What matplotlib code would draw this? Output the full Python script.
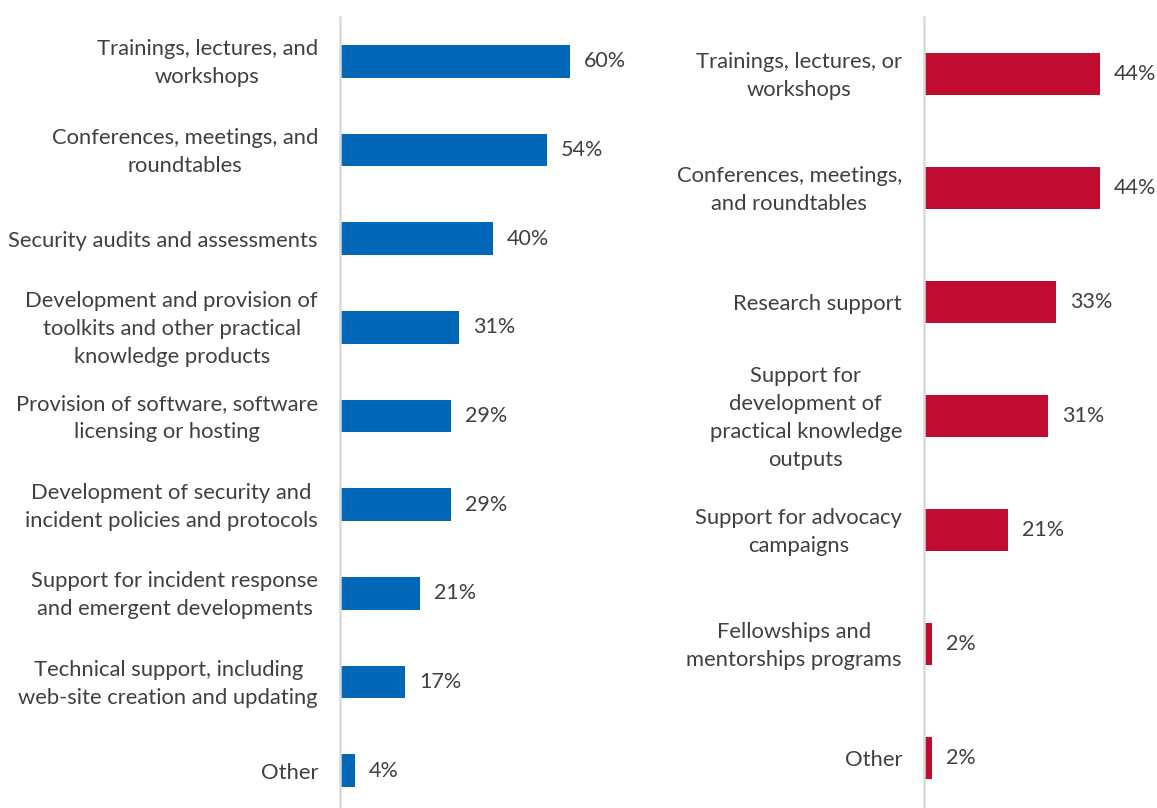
import matplotlib
matplotlib.use("Agg")
import matplotlib.pyplot as plt
from matplotlib.transforms import ScaledTranslation, blended_transform_factory

plt.rcParams["font.family"] = ["Lato", "DejaVu Sans"]

BLUE = "#0067B9"
RED = "#C00C30"
INK = "#404040"
AXIS = "#D9D9D9"

left_labels = [
    "Trainings, lectures, and\nworkshops",
    "Conferences, meetings, and\nroundtables",
    "Security audits and assessments",
    "Development and provision of\ntoolkits and other practical\nknowledge products",
    "Provision of software, software\nlicensing or hosting",
    "Development of security and\nincident policies and protocols",
    "Support for incident response\nand emergent developments",
    "Technical support, including\nweb-site creation and updating",
    "Other",
]
left_values = [60, 54, 40, 31, 29, 29, 21, 17, 4]

right_labels = [
    "Trainings, lectures, or\nworkshops",
    "Conferences, meetings,\nand roundtables",
    "Research support",
    "Support for\ndevelopment of\npractical knowledge\noutputs",
    "Support for advocacy\ncampaigns",
    "Fellowships and\nmentorships programs",
    "Other",
]
right_values = [44, 44, 33, 31, 21, 2, 2]

W, H = 1157, 808
fig = plt.figure(figsize=(W / 100, H / 100), dpi=100)
fig.patch.set_facecolor("white")

bottom = -7 / H
height = 1 - 17 / H - bottom


def panel(x0, xmax, px_per_unit, labels, values, color):
    width = xmax * px_per_unit / W
    ax = fig.add_axes([x0 / W, bottom, width, height])
    ys = list(range(len(values)))
    bars = ax.barh(ys, values, height=0.37, color=color, edgecolor="none")
    ax.set_xlim(0, xmax)
    ax.set_ylim(len(values) - 0.5, -0.5)
    ax.set_yticks([])
    ax.set_xticks([])
    # category names as plain text, 22px left of the axis line
    base = blended_transform_factory(ax.transAxes, ax.transData)
    tr = base + ScaledTranslation(-22 / 100, -2 / 100, fig.dpi_scale_trans)
    for y, lab in zip(ys, labels):
        ax.text(0, y, lab, transform=tr, ha="right", va="center",
                multialignment="center", linespacing=1.5,
                fontsize=15.8, color=INK)
    for s in ["top", "right", "bottom"]:
        ax.spines[s].set_visible(False)
    ax.spines["left"].set_color(AXIS)
    ax.spines["left"].set_linewidth(1.8)
    ax.bar_label(bars, labels=[f"{v}%" for v in values], padding=10,
                 fontsize=15.5, color=INK)
    return ax


panel(340, 75, 3.83, left_labels, left_values, BLUE)
panel(924, 58, 4.0, right_labels, right_values, RED)

fig.savefig("out.png", dpi=100, facecolor="white")
